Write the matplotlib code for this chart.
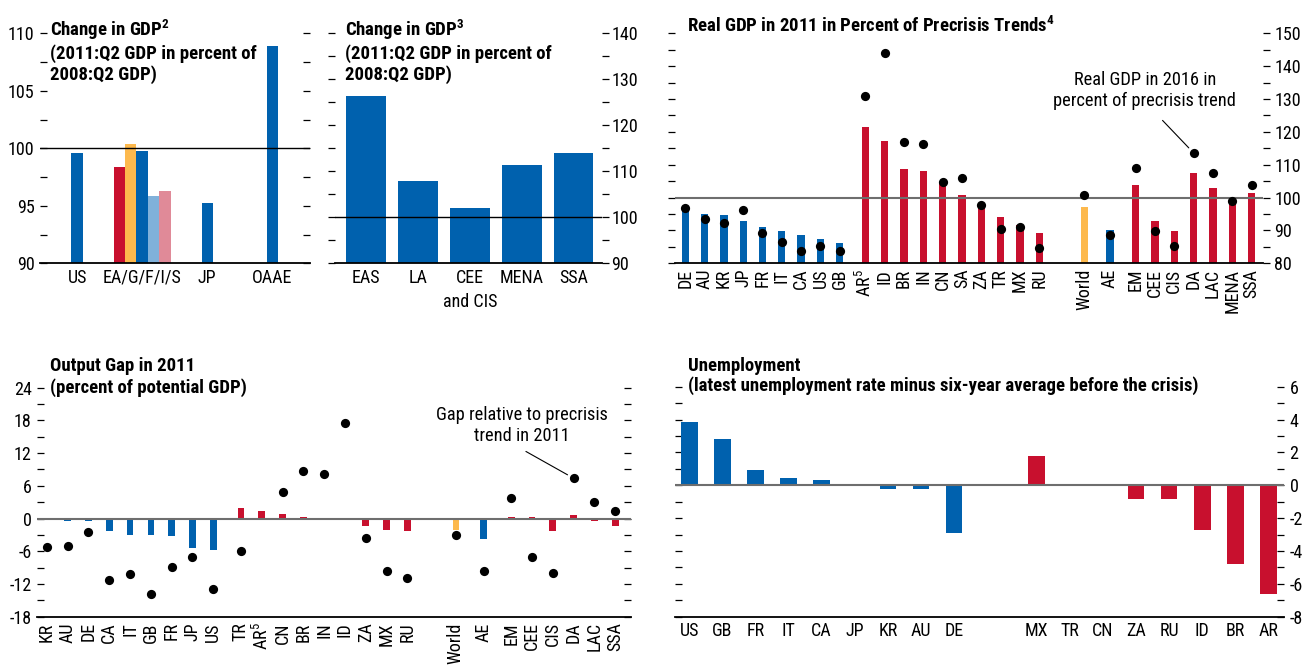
import matplotlib
matplotlib.use("Agg")
import matplotlib.pyplot as plt
from matplotlib import font_manager
from matplotlib.ticker import MultipleLocator
import numpy as np

# ---------------- data ----------------
# Change in GDP, advanced economies (2011:Q2 in % of 2008:Q2)
p1_cats = ["US", "EA/G/F/I/S", "JP", "OAAE"]
p1_single = [99.6, np.nan, 95.2, 108.9]
p1_euro = [98.4, 100.4, 99.8, 95.85, 96.3]  # EA, G, F, I, S

# Change in GDP, emerging regions
p2_cats = ["EAS", "LA", "CEE\nand CIS", "MENA", "SSA"]
p2_vals = [126.4, 107.9, 102.0, 111.4, 114.0]

# Real GDP in percent of precrisis trend (bars 2011, dots 2016)
p3_adv = ["DE", "AU", "KR", "JP", "FR", "IT", "CA", "US", "GB"]
p3_adv_2011 = [97.3, 95.0, 94.7, 92.9, 91.1, 89.8, 88.6, 87.4, 86.2]
p3_adv_2016 = [96.9, 93.5, 92.4, 96.1, 89.2, 86.6, 83.8, 85.4, 83.8]
p3_em = ["AR$^{5}$", "ID", "BR", "IN", "CN", "SA", "ZA", "TR", "MX", "RU"]
p3_em_2011 = [121.5, 117.2, 108.7, 108.1, 104.7, 100.8, 97.0, 94.1, 91.6, 89.2]
p3_em_2016 = [131.0, 144.0, 116.8, 116.4, 104.7, 106.1, 97.6, 90.4, 91.0, 84.6]
p3_world = [97.1, 100.7]
p3_ae = [90.1, 88.6]
p3_reg = ["EM", "CEE", "CIS", "DA", "LAC", "MENA", "SSA"]
p3_reg_2011 = [103.8, 92.9, 89.8, 107.5, 102.9, 99.5, 101.4]
p3_reg_2016 = [109.1, 89.8, 85.2, 113.6, 107.6, 99.0, 103.7]

# Output gap in 2011 (bars) and gap to precrisis trend (dots)
p4_adv = ["KR", "AU", "DE", "CA", "IT", "GB", "FR", "JP", "US"]
p4_adv_gap = [-0.2, -0.4, -0.4, -2.3, -3.0, -3.0, -3.2, -5.4, -5.8]
p4_adv_trend = [-5.3, -5.0, -2.5, -11.2, -10.2, -13.8, -8.9, -7.1, -12.9]
p4_em = ["TR", "AR$^{5}$", "CN", "BR", "IN", "ID", "ZA", "MX", "RU"]
p4_em_gap = [2.0, 1.45, 0.9, 0.35, 0.15, -0.1, -1.3, -2.05, -2.3]
p4_em_trend = [-5.95, np.nan, 4.9, 8.8, 8.2, 17.5, -3.6, -9.6, -10.85]
p4_world = [-2.05, -2.95]
p4_ae = [-3.7, -9.6]
p4_reg = ["EM", "CEE", "CIS", "DA", "LAC", "SSA"]
p4_reg_gap = [0.2, 0.3, -2.3, 0.65, -0.4, -1.3]
p4_reg_trend = [3.8, -7.05, -10.0, 7.4, 3.0, 1.35]

# Unemployment: latest rate minus six-year precrisis average
p5_adv = ["US", "GB", "FR", "IT", "CA", "JP", "KR", "AU", "DE"]
p5_adv_vals = [3.85, 2.8, 0.93, 0.44, 0.32, 0.1, -0.2, -0.2, -2.9]
p5_em = ["MX", "TR", "CN", "ZA", "RU", "ID", "BR", "AR"]
p5_em_vals = [1.78, 0.05, -0.05, -0.83, -0.83, -2.72, -4.79, -6.62]

# ---------------- style ----------------
BLUE = "#0061AE"
RED = "#C8102E"
GOLD = "#FDB94D"
LIGHTBLUE = "#80B1DA"
PINK = "#E08A98"
euro_colors = [RED, GOLD, BLUE, LIGHTBLUE, PINK]

# pick a narrow face if one is installed, else plain Liberation Sans
fonts = font_manager.fontManager.ttflist
names = {f.name for f in fonts}
base, stretch, scale = "Liberation Sans", "normal", 0.9
for cand in ("Liberation Sans Narrow", "Roboto Condensed", "Open Sans Condensed"):
    if cand in names:
        base, scale = cand, 1.0
        break
else:
    for fam in ("Roboto", "Open Sans", "Noto Sans"):
        if any(f.name == fam and f.stretch in ("condensed", "semi-condensed")
               for f in fonts):
            base, stretch, scale = fam, "condensed", 1.0
            break
FS = 13 * scale        # tick labels
FS_T = 13.5 * scale    # panel titles
FS_N = 13.2 * scale    # callouts
plt.rcParams["font.family"] = [base, "DejaVu Sans"]
plt.rcParams["font.stretch"] = stretch
plt.rcParams["axes.unicode_minus"] = False
plt.rcParams["mathtext.fontset"] = "custom"
plt.rcParams["mathtext.rm"] = base
plt.rcParams["mathtext.bf"] = base + ":bold"

W, H = 1308, 669
fig = plt.figure(figsize=(W / 100, H / 100), dpi=100)


def axes_px(l, t, r, b):
    return fig.add_axes([l / W, 1 - b / H, (r - l) / W, (b - t) / H])


def group_positions(sizes, gaps):
    pos = []
    x = 0.0
    for i, n in enumerate(sizes):
        if i:
            x += gaps[i - 1]
        pos.extend(x + np.arange(n))
        x += n
    return np.array(pos)


def style(ax, ylim, major, minor, side, direction="in", pad=4):
    ax.set_ylim(*ylim)
    for s in ("top", "left", "right"):
        ax.spines[s].set_visible(False)
    ax.spines["bottom"].set_linewidth(1.3)
    ax.yaxis.set_major_locator(MultipleLocator(major))
    ax.yaxis.set_minor_locator(MultipleLocator(minor))
    ax.tick_params(axis="y", which="both", left=True, right=True,
                   direction=direction, length=5, width=0.9,
                   labelleft=(side == "left"), labelright=(side == "right"),
                   labelsize=FS, pad=pad)
    ax.tick_params(axis="x", length=0, labelsize=FS, pad=4)
    ax.set_facecolor("none")


def title(x, y, txt, ls=1.2):
    fig.text(x / W, 1 - y / H, txt, fontsize=FS_T, fontweight="bold",
             ha="left", va="top", linespacing=ls)


# ---- panel 1 ----
ax1 = axes_px(40, 33.3, 310, 263.3)
bw1 = 0.175
x1 = np.arange(len(p1_cats))
ax1.bar(x1, p1_single, width=bw1, color=BLUE, zorder=2)
ax1.bar(1 + (np.arange(len(p1_euro)) - 2) * bw1, p1_euro, width=bw1,
        color=euro_colors, zorder=2)
ax1.axhline(100, color="black", lw=1, zorder=3)
ax1.set_xlim(-0.57, 3.58)
ax1.set_xticks(x1, p1_cats)
style(ax1, (90, 110), 5, 2.5, "left")
title(50, 17, "Change in GDP$^{\\mathbf{2}}$\n(2011:Q2 GDP in percent of\n2008:Q2 GDP)",
      ls=1.15)

# ---- panel 2 ----
ax2 = axes_px(335, 33.3, 601.7, 263.3)
x2 = np.arange(len(p2_cats))
ax2.bar(x2, p2_vals, width=0.76, color=BLUE, zorder=2)
ax2.axhline(100, color="black", lw=1, zorder=3)
ax2.set_xlim(-0.6, 4.54)
ax2.set_xticks(x2, p2_cats)
for t in ax2.get_xticklabels():
    t.set_linespacing(1.45)
style(ax2, (90, 140), 10, 5, "right", direction="out", pad=2)
title(345, 17, "Change in GDP$^{\\mathbf{3}}$\n(2011:Q2 GDP in percent of\n2008:Q2 GDP)",
      ls=1.15)

# ---- panel 3 ----
ax3 = axes_px(675, 33.3, 1263.3, 263.3)
gaps = [0.33, 1.33, 0.33, 0.33]
pos3 = group_positions([len(p3_adv), len(p3_em), 1, 1, len(p3_reg)], gaps)
lab3 = p3_adv + p3_em + ["World", "AE"] + p3_reg
bars3 = p3_adv_2011 + p3_em_2011 + [p3_world[0], p3_ae[0]] + p3_reg_2011
dots3 = p3_adv_2016 + p3_em_2016 + [p3_world[1], p3_ae[1]] + p3_reg_2016
col3 = ([BLUE] * len(p3_adv) + [RED] * len(p3_em) + [GOLD, BLUE]
        + [RED] * len(p3_reg))
ax3.bar(pos3, bars3, width=0.38, color=col3, zorder=2)
ax3.axhline(100, color="#6e6e6e", lw=1.5, zorder=3)
ax3.scatter(pos3, dots3, s=44, color="black", zorder=4, linewidths=0)
ax3.set_xlim(-0.53, 29.93)
ax3.set_xticks(pos3, lab3, rotation=90)
style(ax3, (80, 150), 10, 5, "right", direction="out", pad=3)
i_da = lab3.index("DA")
ax3.annotate("Real GDP in 2016 in\npercent of precrisis trend",
             xy=(pos3[i_da], dots3[i_da]), xytext=(23.8, 132.7),
             ha="center", va="center", fontsize=FS_N, linespacing=1.2,
             arrowprops=dict(arrowstyle="-", color="black", lw=0.8,
                             relpos=(0.54, 0), shrinkA=8, shrinkB=5))
title(687, 15, "Real GDP in 2011 in Percent of Precrisis Trends$^{\\mathbf{4}}$")

# ---- panel 4 ----
ax4 = axes_px(37.3, 387.7, 631, 616.7)
pos4 = group_positions([len(p4_adv), len(p4_em), 1, 1, len(p4_reg)], gaps)
lab4 = p4_adv + p4_em + ["World", "AE"] + p4_reg
bars4 = p4_adv_gap + p4_em_gap + [p4_world[0], p4_ae[0]] + p4_reg_gap
dots4 = p4_adv_trend + p4_em_trend + [p4_world[1], p4_ae[1]] + p4_reg_trend
col4 = ([BLUE] * len(p4_adv) + [RED] * len(p4_em) + [GOLD, BLUE]
        + [RED] * len(p4_reg))
ax4.bar(pos4, bars4, width=0.32, color=col4, zorder=2)
ax4.axhline(0, color="#6e6e6e", lw=1.5, zorder=3)
ax4.scatter(pos4, dots4, s=44, color="black", zorder=4, linewidths=0)
ax4.set_xlim(-0.46, 28.08)
ax4.set_xticks(pos4, lab4, rotation=90)
style(ax4, (-18, 24), 6, 3, "left")
i_da4 = lab4.index("DA")
ax4.annotate("Gap relative to precrisis\ntrend in 2011",
             xy=(pos4[i_da4], dots4[i_da4]), xytext=(22.83, 17.0),
             ha="center", va="center", fontsize=FS_N, linespacing=1.2,
             arrowprops=dict(arrowstyle="-", color="black", lw=0.8,
                             relpos=(0.46, 0), shrinkA=5, shrinkB=5))
title(50, 357, "Output Gap in 2011\n(percent of potential GDP)")

# ---- panel 5 ----
ax5 = axes_px(675, 386.7, 1284, 616.7)
pos5 = group_positions([len(p5_adv), len(p5_em)], [1.5])
lab5 = p5_adv + p5_em
vals5 = p5_adv_vals + p5_em_vals
col5 = [BLUE] * len(p5_adv) + [RED] * len(p5_em)
ax5.bar(pos5, vals5, width=0.5, color=col5, zorder=2)
ax5.axhline(0, color="#6e6e6e", lw=1.5, zorder=3)
ax5.set_xlim(-0.43, 17.97)
ax5.set_xticks(pos5, lab5)
style(ax5, (-8, 6), 2, 1, "right")
title(688, 357, "Unemployment\n(latest unemployment rate minus six-year average before the crisis)",
      ls=1.05)

fig.savefig("out.png", dpi=100)
